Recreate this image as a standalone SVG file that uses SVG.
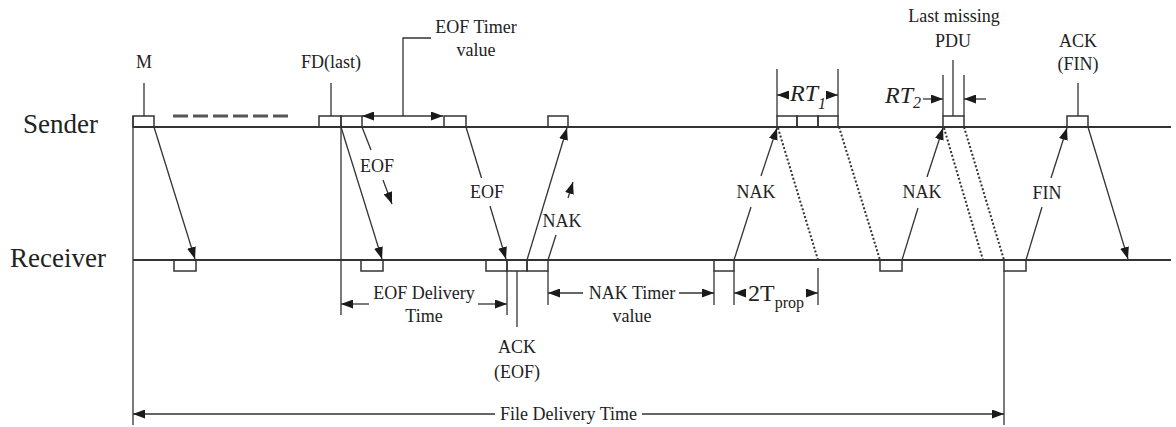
<svg xmlns="http://www.w3.org/2000/svg" width="1176" height="427" viewBox="0 0 1176 427">
<defs>
<marker id="ah" viewBox="0 0 12 9" refX="12" refY="4.5" markerWidth="12" markerHeight="9" markerUnits="userSpaceOnUse" orient="auto"><path d="M0,0 L12,4.5 L0,9 z" fill="#1a1a1a"/></marker>
</defs>
<style>
.t{font-family:"Liberation Serif","Times New Roman",serif;font-size:18px;fill:#222}
.m{text-anchor:middle}
.big{font-size:27px}
.it{font-style:italic;font-size:24px}
.sub{font-size:16px}
.ln{stroke:#333;stroke-width:1.3;fill:none}
.tl{stroke:#333;stroke-width:1.8;fill:none}
.bx{stroke:#333;stroke-width:1.5;fill:none}
.ar{stroke:#333;stroke-width:1.3;fill:none;marker-end:url(#ah)}
.dt{stroke:#333;stroke-width:2;stroke-dasharray:2 2;fill:none}
</style>
<rect width="1176" height="427" fill="#fff"/>

<g id="sender">
<line class="tl" x1="133" y1="127" x2="1171" y2="127"/>
<text class="t big" x="23" y="133">Sender</text>
</g>
<g id="receiver">
<line class="tl" x1="133" y1="260" x2="1171" y2="260"/>
<text class="t big" x="10" y="267">Receiver</text>
</g>

<g id="pdu-m">
<rect class="bx" x="133" y="116" width="21" height="11"/>
<line class="ln" x1="144" y1="83" x2="144" y2="116"/>
<text class="t m" x="144" y="68">M</text>
<line stroke="#555" stroke-width="3" stroke-dasharray="15 5" x1="173" y1="116" x2="288" y2="116"/>
</g>
<g id="pdu-fd-last">
<rect class="bx" x="319" y="116" width="22" height="11"/>
<line class="ln" x1="331" y1="83" x2="331" y2="116"/>
<text class="t m" x="331" y="68">FD(last)</text>
</g>
<g id="eof-1"><rect class="bx" x="341" y="116" width="21" height="11"/></g>
<g id="eof-2"><rect class="bx" x="444" y="116" width="22" height="11"/></g>
<g id="nak-rx-sender"><rect class="bx" x="548" y="116" width="20" height="11"/></g>
<g id="retrans-rt1">
<rect class="bx" x="777" y="116" width="20" height="11"/>
<rect class="bx" x="797" y="116" width="21" height="11"/>
<rect class="bx" x="818" y="116" width="20" height="11"/>
</g>
<g id="last-missing-pdu">
<rect class="bx" x="943" y="116" width="21" height="11"/>
<line class="ln" x1="953" y1="60" x2="953" y2="116"/>
<text class="t m" x="954" y="22">Last missing</text>
<text class="t m" x="953" y="47">PDU</text>
</g>
<g id="ack-fin">
<rect class="bx" x="1067" y="116" width="21" height="11"/>
<line class="ln" x1="1078" y1="83" x2="1078" y2="116"/>
<text class="t m" x="1078" y="47">ACK</text>
<text class="t m" x="1078" y="70">(FIN)</text>
</g>

<g id="rx-boxes">
<rect class="bx" x="174" y="260" width="22" height="11"/>
<rect class="bx" x="361" y="260" width="22" height="11"/>
<rect class="bx" x="486" y="260" width="21" height="11"/>
<rect class="bx" x="507" y="260" width="20" height="11"/>
<rect class="bx" x="527" y="260" width="21" height="11"/>
<rect class="bx" x="714" y="260" width="20" height="11"/>
<rect class="bx" x="880" y="260" width="22" height="11"/>
<rect class="bx" x="1004" y="260" width="22" height="11"/>
</g>

<g id="connectors">
<line class="ar" x1="154" y1="127" x2="195" y2="259"/>
<line class="ar" x1="341" y1="127" x2="382" y2="259"/>
<line class="ln" x1="362" y1="127" x2="371" y2="150"/>
<line class="ar" x1="383" y1="180" x2="392" y2="204"/>
<text class="t m" x="377" y="172">EOF</text>
<line class="ln" x1="466" y1="127" x2="481.5" y2="178"/>
<line class="ar" x1="490" y1="206" x2="506" y2="259"/>
<text class="t m" x="487" y="198">EOF</text>
<line class="ar" x1="527" y1="260" x2="567" y2="128"/>
<line class="ln" x1="548" y1="260" x2="556" y2="235"/>
<line class="ar" x1="568" y1="198" x2="573" y2="182"/>
<text class="t m" x="562" y="227">NAK</text>
<line class="ln" x1="734" y1="260" x2="751" y2="207"/>
<line class="ar" x1="761" y1="176" x2="777" y2="128"/>
<text class="t m" x="756" y="198">NAK</text>
<line class="dt" x1="778" y1="128" x2="818" y2="260"/>
<line class="dt" x1="839" y1="127" x2="880" y2="260"/>
<line class="ln" x1="902" y1="260" x2="918" y2="208"/>
<line class="ar" x1="927" y1="177" x2="943" y2="128"/>
<text class="t m" x="922" y="198">NAK</text>
<line class="dt" x1="944" y1="128" x2="983" y2="260"/>
<line class="dt" x1="964" y1="127" x2="1004" y2="260"/>
<line class="ln" x1="1026" y1="260" x2="1042" y2="207"/>
<line class="ar" x1="1051" y1="178" x2="1067" y2="128"/>
<text class="t m" x="1047" y="199">FIN</text>
<line class="ar" x1="1088" y1="127" x2="1128" y2="259"/>
</g>

<g id="eof-timer">
<line class="ar" x1="403" y1="116" x2="362" y2="116"/>
<line class="ar" x1="403" y1="116" x2="443" y2="116"/>
<polyline class="ln" points="403,116 403,38 431,38"/>
<text class="t m" x="476" y="33">EOF Timer</text>
<text class="t m" x="476" y="56">value</text>
</g>
<g id="rt1">
<line class="ln" x1="777" y1="69" x2="777" y2="116"/>
<line class="ln" x1="838" y1="69" x2="838" y2="116"/>
<line class="ar" x1="788" y1="95" x2="777" y2="95"/>
<line class="ar" x1="827" y1="95" x2="838" y2="95"/>
<text class="t it" x="790" y="101">RT<tspan class="sub" dy="8">1</tspan></text>
</g>
<g id="rt2">
<line class="ln" x1="943" y1="75" x2="943" y2="116"/>
<line class="ln" x1="964" y1="75" x2="964" y2="116"/>
<line class="ar" x1="923" y1="99" x2="943" y2="99"/>
<line class="ar" x1="986" y1="99" x2="964" y2="99"/>
<text class="t it" x="885" y="103">RT<tspan class="sub" dy="5">2</tspan></text>
</g>
<g id="eof-delivery-time">
<line class="ln" x1="341" y1="127" x2="341" y2="315"/>
<line class="ln" x1="507" y1="271" x2="507" y2="315"/>
<line class="ar" x1="369" y1="304" x2="341" y2="304"/>
<line class="ar" x1="478" y1="304" x2="507" y2="304"/>
<text class="t m" x="424" y="299">EOF Delivery</text>
<text class="t m" x="424" y="322">Time</text>
</g>
<g id="ack-eof">
<line class="ln" x1="517" y1="271" x2="517" y2="327"/>
<text class="t m" x="517" y="353">ACK</text>
<text class="t m" x="517" y="378">(EOF)</text>
</g>
<g id="nak-timer">
<line class="ln" x1="548" y1="271" x2="548" y2="305"/>
<line class="ln" x1="714" y1="271" x2="714" y2="305"/>
<line class="ar" x1="583" y1="293" x2="548" y2="293"/>
<line class="ar" x1="679" y1="293" x2="714" y2="293"/>
<text class="t m" x="632" y="299">NAK Timer</text>
<text class="t m" x="632" y="322">value</text>
</g>
<g id="two-tprop">
<line class="ln" x1="734" y1="271" x2="734" y2="305"/>
<line class="ln" x1="818" y1="268" x2="818" y2="305"/>
<line class="ar" x1="746" y1="293" x2="734" y2="293"/>
<line class="ar" x1="806" y1="293" x2="818" y2="293"/>
<text class="t" x="748" y="301" style="font-size:24px">2T<tspan class="sub" dy="7">prop</tspan></text>
</g>
<g id="file-delivery-time">
<line class="ln" x1="133" y1="116" x2="133" y2="425"/>
<line class="ln" x1="1004" y1="271" x2="1004" y2="425"/>
<line class="ar" x1="495" y1="414" x2="133" y2="414"/>
<line class="ar" x1="642" y1="414" x2="1004" y2="414"/>
<text class="t m" x="568.5" y="420">File Delivery Time</text>
</g>
</svg>
